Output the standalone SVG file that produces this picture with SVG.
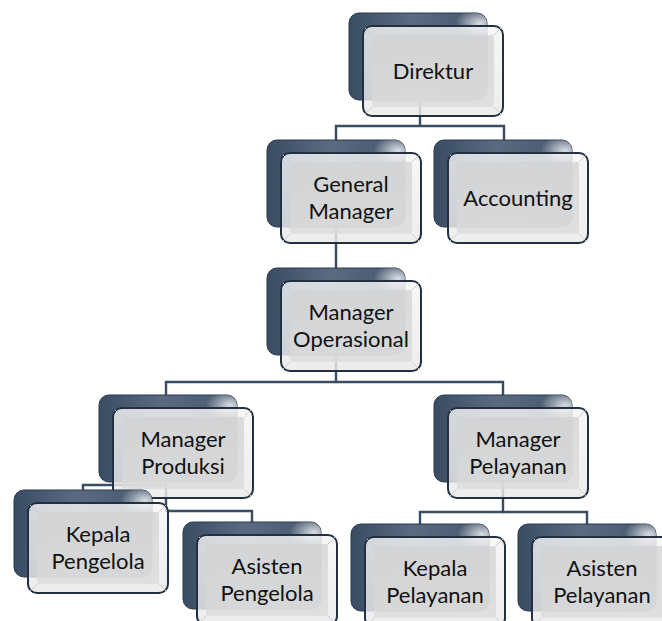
<svg xmlns="http://www.w3.org/2000/svg" width="662" height="621" viewBox="0 0 662 621">
<defs>
<linearGradient id="backG" x1="0" y1="0" x2="1" y2="0">
<stop offset="0" stop-color="#394c63"/>
<stop offset="0.45" stop-color="#5a6b81"/>
<stop offset="1" stop-color="#44566d"/>
</linearGradient>
<radialGradient id="glare" cx="0.95" cy="0.12" r="0.18">
<stop offset="0" stop-color="#ffffff" stop-opacity="0.8"/>
<stop offset="1" stop-color="#ffffff" stop-opacity="0"/>
</radialGradient>
<linearGradient id="frontG" x1="0" y1="0" x2="0" y2="1">
<stop offset="0" stop-color="#f5f5f5"/>
<stop offset="1" stop-color="#e9e9e9"/>
</linearGradient>
<linearGradient id="innerG" x1="0" y1="0" x2="0" y2="1">
<stop offset="0" stop-color="#d2d2d2"/>
<stop offset="1" stop-color="#dadada"/>
</linearGradient>
<g id="box">
<rect x="-14" y="-13" width="138" height="87" rx="10" fill="url(#backG)" stroke="#2b3a4c" stroke-width="1"/>
<rect x="-14" y="-13" width="138" height="87" rx="10" fill="url(#glare)"/>
<rect x="0" y="0" width="140" height="90" rx="9" fill="url(#frontG)" fill-opacity="0.82" stroke="#223041" stroke-width="2"/>
<rect x="9" y="9" width="122" height="72" rx="2" fill="url(#innerG)" fill-opacity="0.75"/>
<path d="M2,2 L9,9 M138,2 L131,9 M2,88 L9,81 M138,88 L131,81" stroke="#cfcfcf" stroke-width="1" fill="none"/>
</g>
</defs>
<style>
.lbl{font-family:Lato,"Liberation Sans",sans-serif;font-size:22px;fill:#111;text-anchor:middle}
.conn{fill:none;stroke:#3a4c62;stroke-width:2.4}
</style>
<g id="connectors">
<path class="conn" d="M420,60 V126"/>
<path class="conn" d="M336,185 V126 H504 V185"/>
<path class="conn" d="M336,200 V320"/>
<path class="conn" d="M336,320 V382"/>
<path class="conn" d="M166,440 V382 H503 V440"/>
<path class="conn" d="M166,440 V511 H252 V560"/>
<path class="conn" d="M166,485 H83 V530"/>
<path class="conn" d="M503,440 V512 H420 V560"/>
<path class="conn" d="M503,512 H587 V560"/>
</g>
<g id="direktur" transform="translate(363,26)"><use href="#box"/><text class="lbl" x="70" y="53">Direktur</text></g>
<g id="general-manager" transform="translate(281,153)"><use href="#box"/><text class="lbl" x="70" y="39">General</text><text class="lbl" x="70" y="66">Manager</text></g>
<g id="accounting" transform="translate(448,153)"><use href="#box"/><text class="lbl" x="70" y="53">Accounting</text></g>
<g id="manager-operasional" transform="translate(281,281)"><use href="#box"/><text class="lbl" x="70" y="39">Manager</text><text class="lbl" x="70" y="66">Operasional</text></g>
<g id="manager-produksi" transform="translate(113,408)"><use href="#box"/><text class="lbl" x="70" y="39">Manager</text><text class="lbl" x="70" y="66">Produksi</text></g>
<g id="manager-pelayanan" transform="translate(448,408)"><use href="#box"/><text class="lbl" x="70" y="39">Manager</text><text class="lbl" x="70" y="66">Pelayanan</text></g>
<g id="kepala-pengelola" transform="translate(28,503)"><use href="#box"/><text class="lbl" x="70" y="39">Kepala</text><text class="lbl" x="70" y="66">Pengelola</text></g>
<g id="asisten-pengelola" transform="translate(197,535)"><use href="#box"/><text class="lbl" x="70" y="39">Asisten</text><text class="lbl" x="70" y="66">Pengelola</text></g>
<g id="kepala-pelayanan" transform="translate(365,537)"><use href="#box"/><text class="lbl" x="70" y="39">Kepala</text><text class="lbl" x="70" y="66">Pelayanan</text></g>
<g id="asisten-pelayanan" transform="translate(532,537)"><use href="#box"/><text class="lbl" x="70" y="39">Asisten</text><text class="lbl" x="70" y="66">Pelayanan</text></g>
</svg>
